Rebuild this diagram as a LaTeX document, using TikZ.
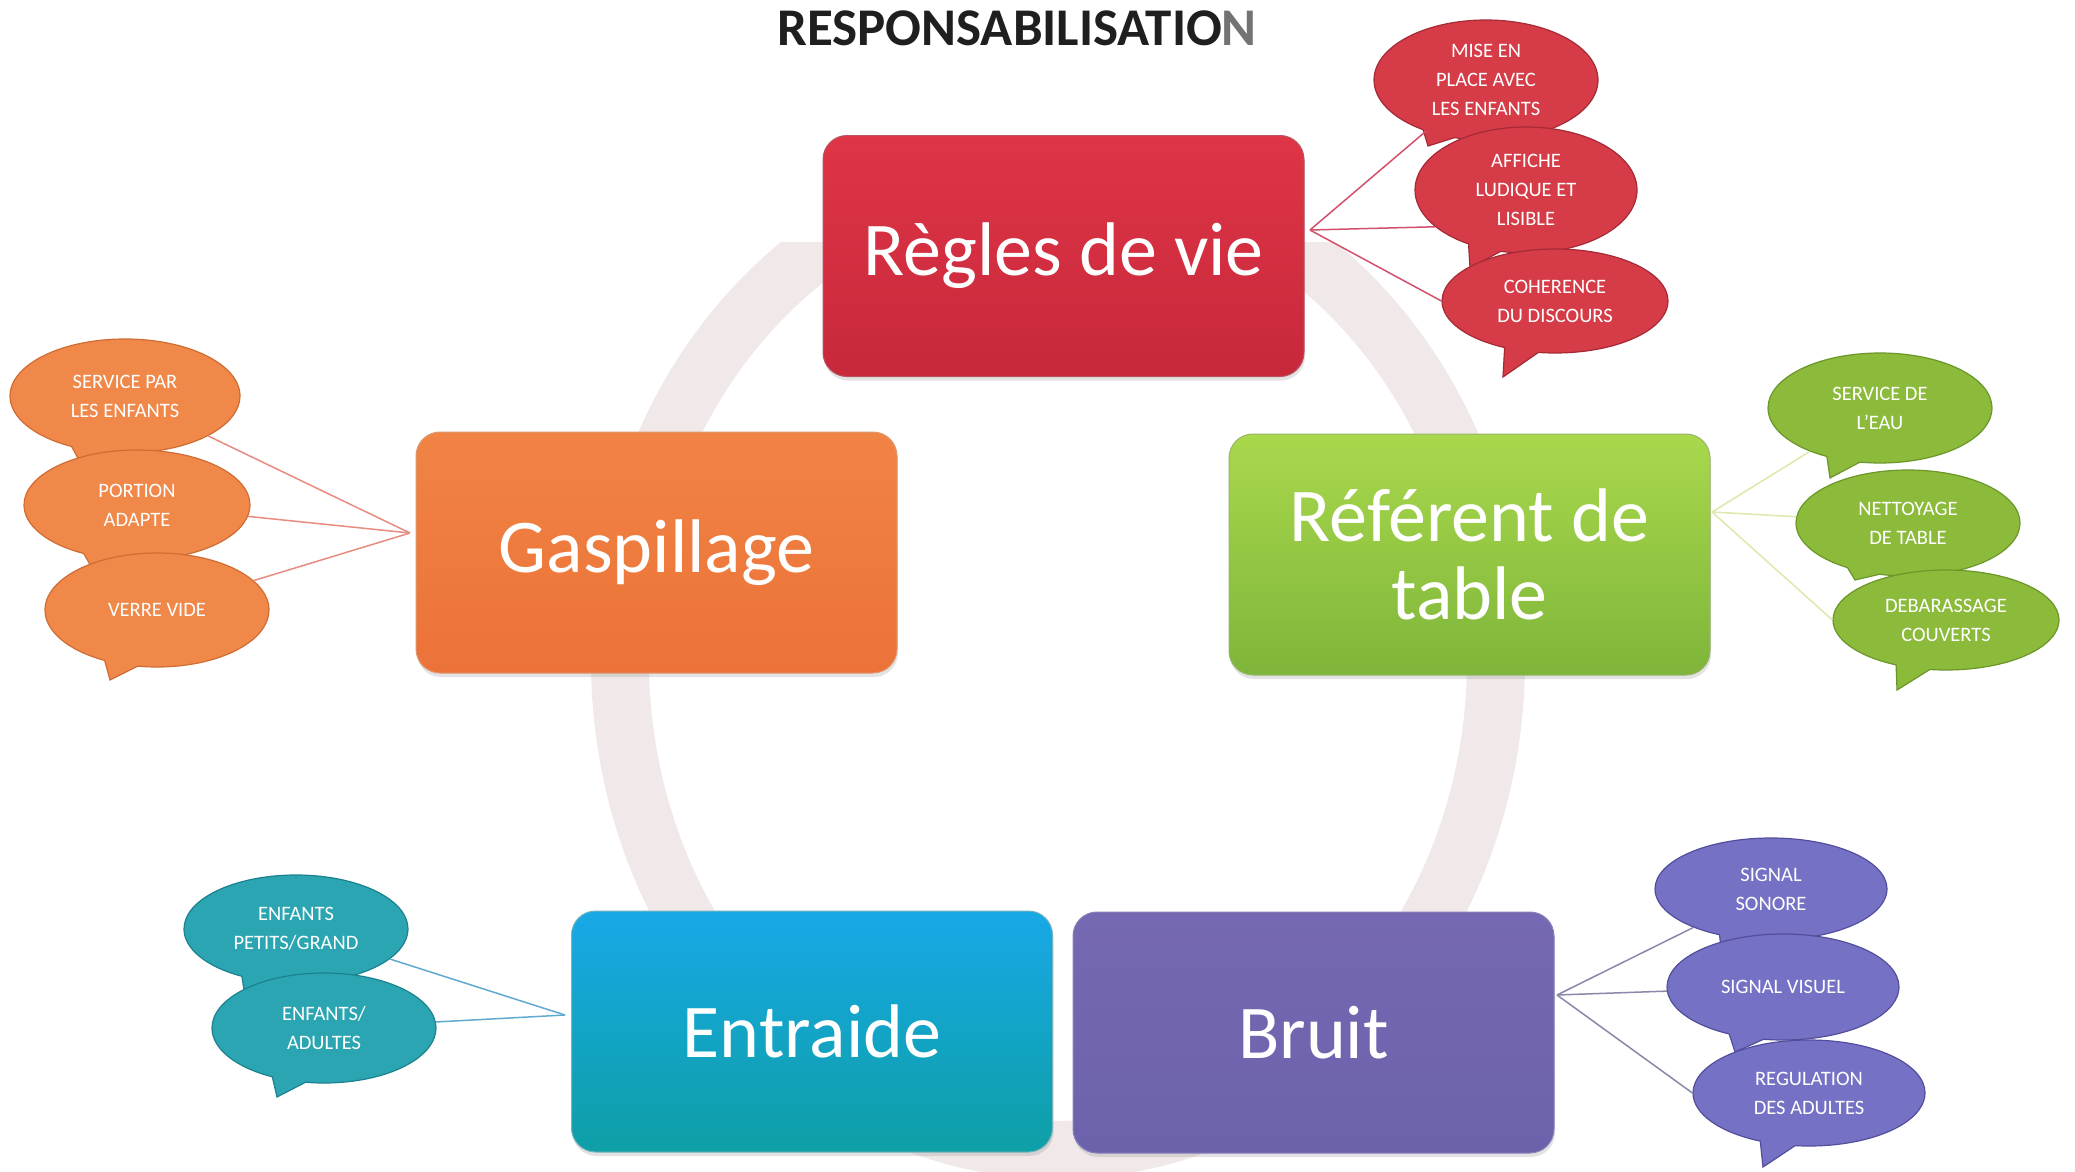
\documentclass[tikz,border=0pt]{standalone}
\usepackage{fontspec}
\setmainfont{Carlito}
\usetikzlibrary{shapes.callouts,shadows}
\definecolor{ringcol}{HTML}{F1E9E9}
\definecolor{redtop}{HTML}{DE3547}
\definecolor{redbot}{HTML}{C8283B}
\definecolor{ortop}{HTML}{F08444}
\definecolor{orbot}{HTML}{EC7238}
\definecolor{grtop}{HTML}{A9D84C}
\definecolor{grbot}{HTML}{7EB53A}
\definecolor{bltop}{HTML}{18A8E6}
\definecolor{blbot}{HTML}{0E9FA6}
\definecolor{putop}{HTML}{7668B2}
\definecolor{pubot}{HTML}{6C62AC}
\definecolor{redb}{HTML}{D63C47}
\definecolor{redd}{HTML}{A52A36}
\definecolor{orb}{HTML}{EF8848}
\definecolor{ord}{HTML}{D06D34}
\definecolor{grb}{HTML}{8CBB3C}
\definecolor{grd}{HTML}{6B9629}
\definecolor{teb}{HTML}{2AA5B1}
\definecolor{ted}{HTML}{1D8290}
\definecolor{pub}{HTML}{7571C4}
\definecolor{pud}{HTML}{534E9C}
\definecolor{redl}{HTML}{D2506C}
\definecolor{orl}{HTML}{E98C80}
\definecolor{grl}{HTML}{DDE9AA}
\definecolor{tel}{HTML}{62A9CF}
\definecolor{pul}{HTML}{8A88AA}
\begin{document}
\begin{tikzpicture}[x=1pt,y=-1pt,
  box/.style={rectangle, rounded corners=24pt, minimum width=481pt, minimum height=241pt,
    text=white, font=\fontsize{76}{78}\selectfont, align=center, inner sep=0pt,
    drop shadow={opacity=0.22, shadow xshift=1pt, shadow yshift=-4pt}},
  bub/.style={ellipse callout, callout pointer arc=18, inner sep=0pt, text=white,
    font=\fontsize{20.5}{29}\selectfont, align=center, line width=1.2pt},
  link/.style={line width=1.5pt}]
\useasboundingbox (0,0) rectangle (2075,1172);
\fill[white] (0,0) rectangle (2075,1172);
% faint cycle ring (its top is hidden behind the first box)
\begin{scope}
  \clip (0,242) rectangle (2075,1172);
  \draw[ringcol, line width=58pt] (1058,660) ellipse[x radius=438pt, y radius=490pt];
\end{scope}
% title
\node[anchor=base, font=\fontsize{53}{58}\selectfont\bfseries, text=black!88] (title) at (1017,46)
  {RESPONSABILISATIO\textcolor{black!55}{N}};
% main boxes
\node[box, top color=redtop, bottom color=redbot, draw=redd!80, line width=1pt] (regles) at (1063.5,256) {Règles de vie};
\node[box, top color=ortop, bottom color=orbot, draw=ord!70, line width=1pt] (gasp) at (656.5,552.5) {Gaspillage};
\node[box, top color=grtop, bottom color=grbot, draw=grd!70, line width=1pt] (refer) at (1469.5,554.5) {Référent de\\table};
\node[box, top color=bltop, bottom color=blbot, draw=ted!60, line width=1pt] (entr) at (812,1031.5) {Entraide};
\node[box, top color=putop, bottom color=pubot, draw=pud!70, line width=1pt] (bruit) at (1313.5,1032.5) {Bruit};
% hub points on the boxes
\coordinate (rhub) at (1310,230);
\coordinate (ohub) at (410,533);
\coordinate (ghub) at (1712,512);
\coordinate (thub) at (565,1015);
\coordinate (phub) at (1557,995);
% red bubbles
\node[bub, fill=redb, draw=redd, minimum width=224pt, minimum height=120pt, callout absolute pointer={(1428,146)}] (mise) at (1486,80) {MISE EN\\PLACE AVEC\\LES ENFANTS};
\node[bub, fill=redb, draw=redd, minimum width=222pt, minimum height=126pt, callout absolute pointer={(1470,268)}] (aff) at (1526,190) {AFFICHE\\LUDIQUE ET\\LISIBLE};
\node[bub, fill=redb, draw=redd, minimum width=226pt, minimum height=104pt, callout absolute pointer={(1503,377)}] (coh) at (1555,301) {COHERENCE\\DU DISCOURS};
% orange bubbles
\node[bub, fill=orb, draw=ord, minimum width=230pt, minimum height=114pt, callout absolute pointer={(80,462)}] (spar) at (125,396) {SERVICE PAR\\LES ENFANTS};
\node[bub, fill=orb, draw=ord, minimum width=226pt, minimum height=110pt, callout absolute pointer={(92,568)}] (port) at (137,505) {PORTION\\ADAPTE};
\node[bub, fill=orb, draw=ord, minimum width=224pt, minimum height=114pt, callout absolute pointer={(110,680)}] (verre) at (157,610) {VERRE VIDE};
% green bubbles
\node[bub, fill=grb, draw=grd, minimum width=224pt, minimum height=110pt, callout absolute pointer={(1830,478)}] (seau) at (1880,408) {SERVICE DE\\L’EAU};
\node[bub, fill=grb, draw=grd, minimum width=224pt, minimum height=106pt, callout absolute pointer={(1855,580)}] (net) at (1908,523) {NETTOYAGE\\DE TABLE};
\node[bub, fill=grb, draw=grd, minimum width=226pt, minimum height=100pt, callout absolute pointer={(1897,690)}] (deb) at (1946,620) {DEBARASSAGE\\COUVERTS};
% teal bubbles
\node[bub, fill=teb, draw=ted, minimum width=224pt, minimum height=108pt, callout absolute pointer={(245,997)}] (pet) at (296,929) {ENFANTS\\PETITS/GRAND};
\node[bub, fill=teb, draw=ted, minimum width=224pt, minimum height=110pt, callout absolute pointer={(277,1097)}] (adu) at (324,1028) {ENFANTS/\\ADULTES};
% purple bubbles
\node[bub, fill=pub, draw=pud, minimum width=232pt, minimum height=102pt, callout absolute pointer={(1722,958)}] (son) at (1771,889) {SIGNAL\\SONORE};
\node[bub, fill=pub, draw=pud, minimum width=232pt, minimum height=106pt, callout absolute pointer={(1735,1052)}] (vis) at (1783,987) {SIGNAL VISUEL};
\node[bub, fill=pub, draw=pud, minimum width=232pt, minimum height=106pt, callout absolute pointer={(1763,1167)}] (reg) at (1809,1093) {REGULATION\\DES ADULTES};
% connectors
\draw[link, redl] (rhub) -- (mise);
\draw[link, redl] (rhub) -- (aff.202);
\draw[link, redl] (rhub) -- (coh.west);
\draw[link, orl] (ohub) -- (spar);
\draw[link, orl] (ohub) -- (port);
\draw[link, orl] (ohub) -- (verre);
\draw[link, grl] (ghub) -- (seau);
\draw[link, grl] (ghub) -- (net);
\draw[link, grl] (ghub) -- (deb.west);
\draw[link, tel] (thub) -- (pet);
\draw[link, tel] (thub) -- (adu);
\draw[link, pul] (phub) -- (son);
\draw[link, pul] (phub) -- (vis);
\draw[link, pul] (phub) -- (reg.west);
\end{tikzpicture}
\end{document}
